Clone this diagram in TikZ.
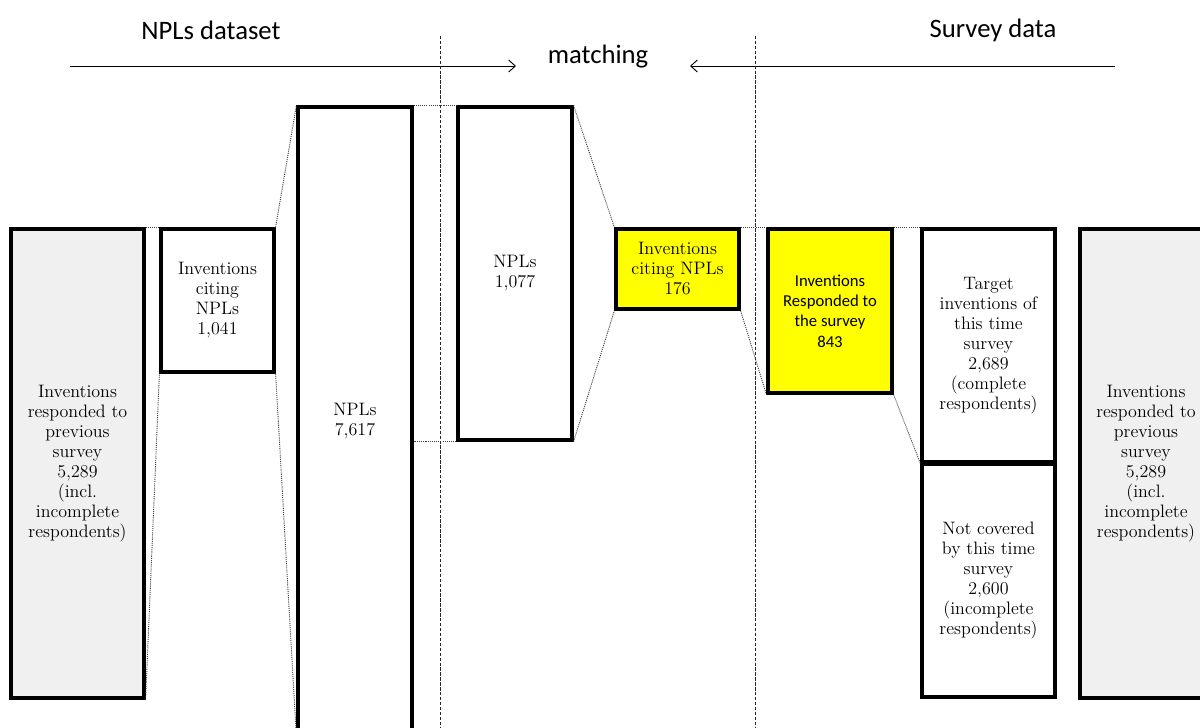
\documentclass[tikz,border=0pt]{standalone}
\usepackage{fontspec}
\setsansfont{Carlito}
\usetikzlibrary{arrows.meta}
\definecolor{boxgray}{HTML}{F0F0F0}
\definecolor{hiyellow}{HTML}{FFFF00}
\tikzset{
  stagebox/.style={draw=black, line width=2.4pt, fill=white, align=center, inner sep=2pt,
    font=\fontsize{13.5}{15}\selectfont},
  graybox/.style={stagebox, fill=boxgray},
  yellowbox/.style={stagebox, fill=hiyellow},
  linkline/.style={line width=0.7pt, draw=black!75, dash pattern=on 0.8pt off 0.8pt},
  divider/.style={line width=0.6pt, draw=black!85, dash pattern=on 2.5pt off 1.2pt},
  flowarrow/.style={line width=0.7pt, -{Straight Barb[length=5pt,width=9pt]}},
  heading/.style={font=\sffamily\fontsize{20}{24}\selectfont, inner sep=0pt}
}
\begin{document}
\begin{tikzpicture}[x=0.75pt,y=-0.75pt]
\useasboundingbox (0,0) rectangle (1200,728);
\clip (0,0) rectangle (1200,728);
\fill[white] (0,0) rectangle (1200,728);

% headings
\node[heading] (hnpl) at (211,30) {NPLs dataset};
\node[heading] (hmatch) at (598,57) {matching};
\node[heading] (hsurvey) at (993,30) {Survey data};

% arrows
\coordinate (la0) at (70,66);
\coordinate (la1) at (516,66);
\coordinate (ra0) at (1115,66);
\coordinate (ra1) at (690,66);
\draw[flowarrow] (la0) -- (la1);
\draw[flowarrow] (ra0) -- (ra1);

% dividers
\coordinate (d1t) at (440,36);
\coordinate (d1b) at (440,730);
\coordinate (d2t) at (755,36);
\coordinate (d2b) at (755,730);
\draw[divider] (d1t) -- (d1b);
\draw[divider] (d2t) -- (d2b);

% boxes
\node[graybox, minimum width=99.75pt, minimum height=351.75pt] (lg) at (77.5,463.5)
  {Inventions\\responded to\\previous\\survey\\5,289\\(incl.\\incomplete\\respondents)};
\node[stagebox, minimum width=84.75pt, minimum height=107.25pt] (c1041) at (217.5,300.5)
  {Inventions\\citing\\NPLs\\1,041};
\node[stagebox, minimum width=85.5pt, minimum height=471pt] (n7617) at (355,421)
  {NPLs\\7,617};
\node[stagebox, minimum width=85.5pt, minimum height=249.75pt] (n1077) at (515,273.5)
  {NPLs\\1,077};
\node[yellowbox, minimum width=92.25pt, minimum height=60pt] (c176) at (677.5,269)
  {Inventions\\citing NPLs\\176};
\node[yellowbox, minimum width=93pt, minimum height=123pt,
  font=\sffamily\fontsize{12.5}{15.3}\selectfont] (r843) at (830,311)
  {Inventions\\Responded to\\the survey\\843};
\node[stagebox, minimum width=99.75pt, minimum height=174.75pt] (tgt) at (988.5,345.5)
  {Target\\inventions of\\this time\\survey\\2,689\\(complete\\respondents)};
\node[stagebox, minimum width=99.75pt, minimum height=174.75pt] (ncov) at (988.5,580.5)
  {Not covered\\by this time\\survey\\2,600\\(incomplete\\respondents)};
\node[graybox, minimum width=99pt, minimum height=351.75pt] (rg) at (1146,463.5)
  {Inventions\\responded to\\previous\\survey\\5,289\\(incl.\\incomplete\\respondents)};

% dotted links
\draw[linkline] (lg.north east) -- (c1041.north west);
\draw[linkline] (lg.south east) -- (c1041.south west);
\draw[linkline] (c1041.north east) -- (n7617.north west);
\draw[linkline] (c1041.south east) -- (n7617.south west);
\draw[linkline] (n7617.north east) -- (n1077.north west);
\draw[linkline] (n1077.south west) -- (n1077.south west -| n7617.east);
\draw[linkline] (n1077.north east) -- (c176.north west);
\draw[linkline] (n1077.south east) -- (c176.south west);
\draw[linkline] (c176.north east) -- (r843.north west);
\draw[linkline] (c176.south east) -- (r843.south west);
\draw[linkline] (r843.north east) -- (tgt.north west);
\draw[linkline] (r843.south east) -- (tgt.south west);
\end{tikzpicture}
\end{document}
